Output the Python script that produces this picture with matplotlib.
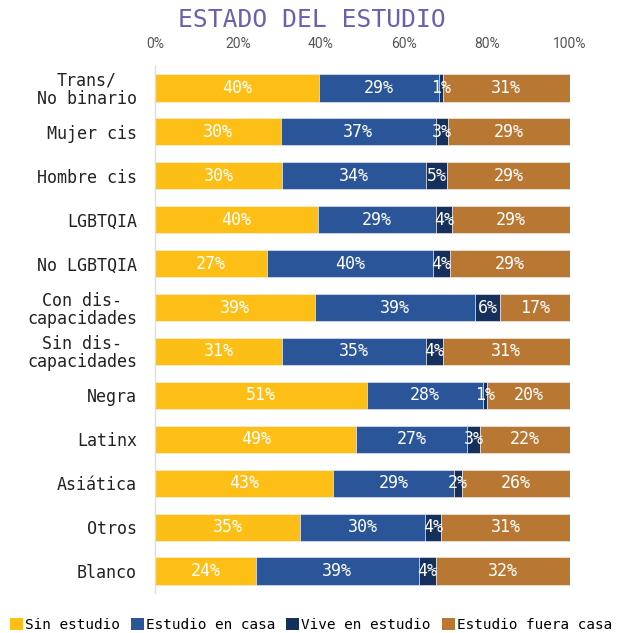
import matplotlib
matplotlib.use("Agg")
import matplotlib.pyplot as plt
import numpy as np
from matplotlib.patches import Patch

plt.rcParams['font.family'] = ['DejaVu Sans Mono']

categories = ["Trans/\nNo binario", "Mujer cis", "Hombre cis", "LGBTQIA", "No LGBTQIA",
              "Con dis-\ncapacidades", "Sin dis-\ncapacidades", "Negra", "Latinx",
              "Asiática", "Otros", "Blanco"]
series_names = ["Sin estudio", "Estudio en casa", "Vive en estudio", "Estudio fuera casa"]
sin_estudio = [40, 30, 30, 40, 27, 39, 31, 51, 49, 43, 35, 24]
estudio_casa = [29, 37, 34, 29, 40, 39, 35, 28, 27, 29, 30, 39]
vive_estudio = [1, 3, 5, 4, 4, 6, 4, 1, 3, 2, 4, 4]
estudio_fuera = [31, 29, 29, 29, 29, 17, 31, 20, 22, 26, 31, 32]
colors = ["#FDBF15", "#2A5598", "#15305C", "#B87834"]
xticks = [0, 20, 40, 60, 80, 100]

data = np.array([sin_estudio, estudio_casa, vive_estudio, estudio_fuera], dtype=float)
shares = data / data.sum(axis=0) * 100

fig = plt.figure(figsize=(6.26, 6.33), dpi=100)
ax = fig.add_axes([155/626, 1-593/633, 415/626, (593-66)/633])

y = np.arange(len(categories))
left = np.zeros(len(categories))
for i in range(4):
    ax.barh(y, shares[i], left=left, height=0.62, color=colors[i],
            edgecolor="#f4f4f4", linewidth=0.4)
    for j in range(len(categories)):
        ax.text(left[j] + shares[i][j]/2, y[j], f"{int(data[i][j])}%",
                ha="center", va="center", color="white", fontsize=12)
    left += shares[i]

ax.set_xlim(0, 100)
ax.set_ylim(11.5, -0.5)
ax.set_yticks(y)
ax.set_yticklabels(categories, fontsize=12, color="#222222", ha="right",
                   multialignment="center", linespacing=1.0)
ax.tick_params(axis="y", length=0, pad=13)
ax.xaxis.tick_top()
ax.set_xticks(xticks)
ax.set_xticklabels([f"{t}%" for t in xticks], fontsize=10, color="#555555",
                   family="Roboto")
ax.tick_params(axis="x", length=0, pad=11)
for s in ["top", "right", "bottom"]:
    ax.spines[s].set_visible(False)
ax.spines["left"].set_color("#dddddd")
ax.spines["left"].set_linewidth(1)

fig.text(312/626, 1-20/633, "ESTADO DEL ESTUDIO", ha="center", va="center",
         fontsize=17.7, color="#6B5FB0")

handles = [Patch(facecolor=c, edgecolor="none") for c in colors]
fig.legend(handles, series_names, loc="center left", bbox_to_anchor=(10/626, 1-625/633),
           ncol=4, frameon=False, fontsize=10.4, handlelength=0.9, handleheight=0.9,
           handletextpad=0.15, columnspacing=0.75, borderpad=0, borderaxespad=0)

fig.savefig("out.png", dpi=100)
